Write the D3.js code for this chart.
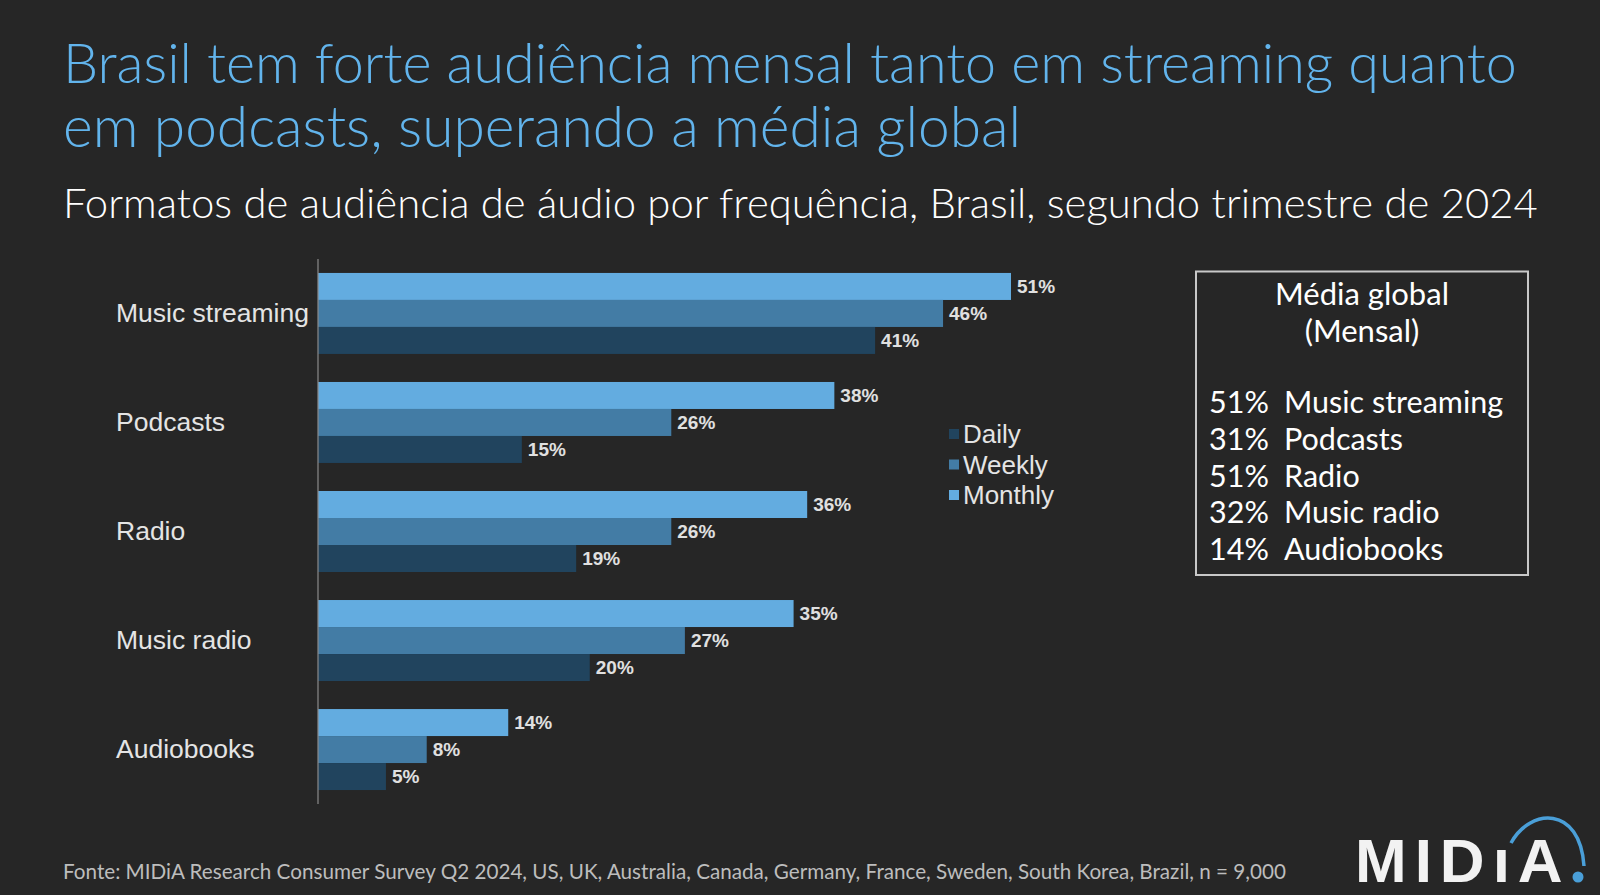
<!DOCTYPE html>
<html>
<head>
<meta charset="utf-8">
<script src="https://cdn.jsdelivr.net/npm/d3@7/dist/d3.min.js"></script>
<style>
  html, body { margin: 0; padding: 0; background: #262626; }
  svg { display: block; }
</style>
</head>
<body>
<svg id="chart" width="1600" height="895"></svg>
<script>
// ---- data ----
const categories = ["Music streaming", "Podcasts", "Radio", "Music radio", "Audiobooks"];
const seriesNames = ["Monthly", "Weekly", "Daily"];
const monthly = [51, 38, 36, 35, 14];
const weekly  = [46, 26, 26, 27, 8];
const daily   = [41, 15, 19, 20, 5];
const legendOrder = ["Daily", "Weekly", "Monthly"];
const globalValues = [51, 31, 51, 32, 14];
const globalLabels = ["Music streaming", "Podcasts", "Radio", "Music radio", "Audiobooks"];

const titleLines = ["Brasil tem forte audiência mensal tanto em streaming quanto", "em podcasts, superando a média global"];
const subtitle = "Formatos de audiência de áudio por frequência, Brasil, segundo trimestre de 2024";
const footer = "Fonte: MIDiA Research Consumer Survey Q2 2024, US, UK,  Australia, Canada, Germany, France, Sweden, South Korea, Brazil, n = 9,000";

const seriesValues = { Monthly: monthly, Weekly: weekly, Daily: daily };
const colors = { Monthly: "#63ACE0", Weekly: "#437CA5", Daily: "#21445E" };

const svg = d3.select("#chart");
const SANS = "'Liberation Sans', Arial, sans-serif";
const AV = "Lato, 'Noto Sans', sans-serif";

function fitText(sel, targetWidth) {
  const node = sel.node();
  const fs = parseFloat(sel.attr("font-size"));
  const w = node.getComputedTextLength();
  if (w > 0) sel.attr("font-size", (fs * targetWidth / w).toFixed(2));
}

// ---- title ----
const t1 = svg.append("text").attr("x", 63).attr("y", 83).attr("fill", "#62B4EC")
  .attr("font-family", AV).attr("font-weight", 300).attr("font-size", 50).text(titleLines[0]);
fitText(t1, 1454);
const t2 = svg.append("text").attr("x", 63).attr("y", 147).attr("fill", "#62B4EC")
  .attr("font-family", AV).attr("font-weight", 300).attr("font-size", 50).text(titleLines[1]);
fitText(t2, 958);
const st = svg.append("text").attr("x", 63).attr("y", 218).attr("fill", "#ffffff")
  .attr("font-family", AV).attr("font-weight", 300).attr("font-size", 38).text(subtitle);
fitText(st, 1475);

// ---- scales ----
const x0 = 318;
const x = d3.scaleLinear().domain([0, 51]).range([x0, 1011]);
const y = d3.scaleBand().domain(categories).range([259, 804]).paddingInner(0.257).paddingOuter(0.128);
const ySub = d3.scaleBand().domain(seriesNames).range([0, y.bandwidth()]);

// ---- bars ----
const groups = svg.append("g").selectAll("g").data(categories).join("g")
  .attr("transform", d => `translate(0,${y(d)})`);

seriesNames.forEach(s => {
  groups.append("rect")
    .attr("x", x0)
    .attr("y", ySub(s))
    .attr("height", ySub.bandwidth())
    .attr("width", (d, i) => x(seriesValues[s][i]) - x0)
    .attr("fill", colors[s]);
  groups.append("text")
    .attr("x", (d, i) => x(seriesValues[s][i]) + 6)
    .attr("y", ySub(s) + ySub.bandwidth() / 2)
    .attr("dy", "0.36em")
    .attr("fill", "#e0e0e0")
    .attr("font-family", SANS)
    .attr("font-weight", "bold")
    .attr("font-size", 19)
    .text((d, i) => seriesValues[s][i] + "%");
});

// ---- axis ----
const yAxis = d3.axisLeft(y).tickSize(0).tickPadding(0);
const axG = svg.append("g").attr("transform", `translate(${x0},0)`).call(yAxis);
axG.select(".domain").attr("stroke", "#8a8a8a").attr("stroke-width", 1.2)
  .attr("d", `M0,259V804`);
axG.selectAll(".tick text")
  .attr("x", 116 - x0)
  .attr("text-anchor", "start")
  .attr("fill", "#e4e4e4")
  .attr("font-family", SANS)
  .attr("font-size", 26.5);

// ---- legend ----
const lg = svg.append("g").selectAll("g").data(legendOrder).join("g")
  .attr("transform", (d, i) => `translate(949,${429 + i * 30.5})`);
lg.append("rect").attr("width", 10).attr("height", 10).attr("fill", d => colors[d]);
lg.append("text").attr("x", 14).attr("y", 5).attr("dy", "0.36em")
  .attr("fill", "#e4e4e4").attr("font-family", SANS).attr("font-size", 26).text(d => d);

// ---- global average box ----
svg.append("rect").attr("x", 1196).attr("y", 271.5).attr("width", 332).attr("height", 303.5)
  .attr("fill", "none").attr("stroke", "#c8c8c8").attr("stroke-width", 2);
svg.append("text").attr("x", 1362).attr("y", 305).attr("text-anchor", "middle")
  .attr("fill", "#ffffff").attr("font-family", AV).attr("font-size", 31).text("Média global");
svg.append("text").attr("x", 1362).attr("y", 341.5).attr("text-anchor", "middle")
  .attr("fill", "#ffffff").attr("font-family", AV).attr("font-size", 31).text("(Mensal)");
const gl = svg.append("g").selectAll("g").data(globalLabels).join("g")
  .attr("transform", (d, i) => `translate(0,${413.3 + i * 36.7})`);
gl.append("text").attr("x", 1209).attr("fill", "#ffffff").attr("font-family", AV)
  .attr("font-size", 30.5).text((d, i) => globalValues[i] + "%");
gl.append("text").attr("x", 1284).attr("fill", "#ffffff").attr("font-family", AV)
  .attr("font-size", 30.5).text(d => d);

// ---- footer ----
const ft = svg.append("text").attr("x", 63).attr("y", 879).attr("fill", "#bdbdbd")
  .attr("font-family", AV).attr("font-size", 19).text(footer);
fitText(ft, 1224);

// ---- logo ----
const logo = svg.append("g");
const lt = logo.append("text").attr("x", 1355).attr("y", 882).attr("fill", "#f2f2f2")
  .attr("font-family", SANS).attr("font-weight", "bold").attr("font-size", 62)
  .attr("letter-spacing", 8).text("MIDıA");
logo.append("path").attr("d", "M1511,843 C1530,808 1580,805 1584,866")
  .attr("fill", "none").attr("stroke", "#4A9FD8").attr("stroke-width", 3.5);
logo.append("circle").attr("cx", 1578).attr("cy", 877).attr("r", 5.5).attr("fill", "#4A9FD8");
</script>
</body>
</html>
